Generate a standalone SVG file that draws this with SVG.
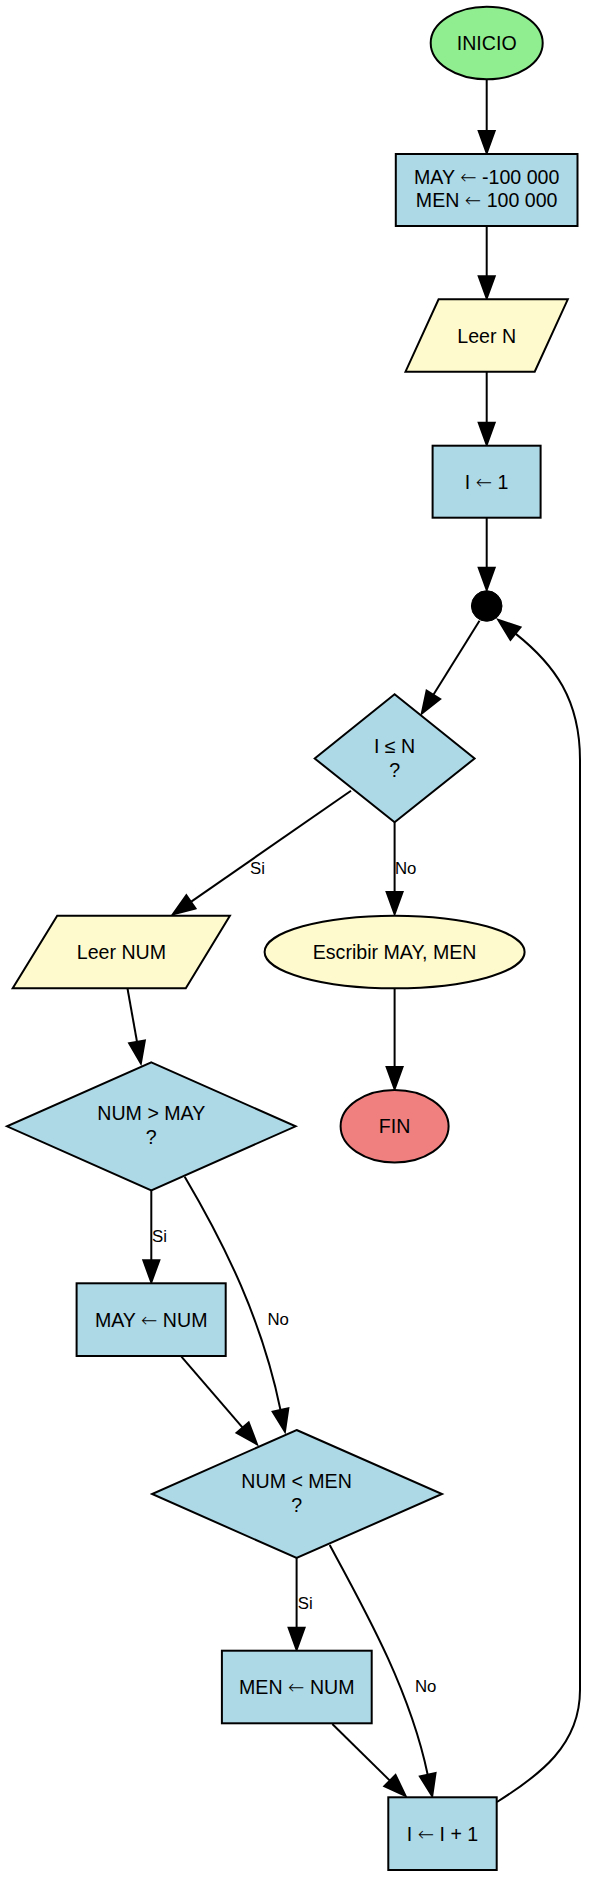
<svg xmlns="http://www.w3.org/2000/svg" width="589" height="1878" viewBox="0 0 589 1878">
<style>
  .n { stroke: #000; stroke-width: 2; }
  .proc { fill: #ADD8E6; }
  .io { fill: #FFFACD; }
  .t { font-family: "Liberation Sans", Arial, sans-serif; font-size: 19.6px; fill: #000; text-anchor: middle; }
  .a { font-family: "DejaVu Sans", sans-serif; font-weight: 200; }
  .lbl { font-family: "Liberation Sans", Arial, sans-serif; font-size: 16.8px; fill: #000; text-anchor: start; }
  .e { fill: none; stroke: #000; stroke-width: 2; }
</style>
<defs>
  <marker id="arr" markerUnits="userSpaceOnUse" markerWidth="28" markerHeight="22" refX="1" refY="10" orient="auto" overflow="visible">
    <path d="M1,2 L23,10 L1,18 Z" fill="#000" stroke="#000" stroke-width="2"/>
  </marker>
</defs>
<rect width="589" height="1878" fill="#fff"/>
<g id="connectors">
  <path class="e" marker-end="url(#arr)" d="M486.7,79.3 L486.7,131"/>
  <path class="e" marker-end="url(#arr)" d="M486.7,226 L486.7,276.3"/>
  <path class="e" marker-end="url(#arr)" d="M486.7,371.7 L486.7,422.7"/>
  <path class="e" marker-end="url(#arr)" d="M486.7,517.7 L486.7,567.7"/>
  <path class="e" marker-end="url(#arr)" d="M479.5,620.7 L433.4,694.8"/>
  <path class="e" marker-end="url(#arr)" d="M351,790.7 L190.9,901.9"/>
  <path class="e" marker-end="url(#arr)" d="M394.6,822.3 L394.6,892"/>
  <path class="e" marker-end="url(#arr)" d="M394.6,988.3 L394.6,1067"/>
  <path class="e" marker-end="url(#arr)" d="M127.5,988.5 L137,1041.8"/>
  <path class="e" marker-end="url(#arr)" d="M151.3,1190.3 L151.3,1260.3"/>
  <path class="e" marker-end="url(#arr)" d="M184.7,1176.7 C225,1245 262,1320 280.5,1410"/>
  <path class="e" marker-end="url(#arr)" d="M181.4,1356.7 L242.6,1427.6"/>
  <path class="e" marker-end="url(#arr)" d="M296.6,1558 L296.6,1627.7"/>
  <path class="e" marker-end="url(#arr)" d="M329.7,1545 C365,1610 410,1690 427.7,1774.7"/>
  <path class="e" marker-end="url(#arr)" d="M332.3,1724 L389.9,1780.6"/>
  <path class="e" marker-end="url(#arr)" d="M497,1802 C540,1775 580,1745 580,1690 L580,760 C580,700 555,665 515.5,633.6"/>
  <text class="lbl" x="250" y="874.3">Si</text>
  <text class="lbl" x="395" y="874.3">No</text>
  <text class="lbl" x="152" y="1241.7">Si</text>
  <text class="lbl" x="267.4" y="1325">No</text>
  <text class="lbl" x="297.8" y="1609.3">Si</text>
  <text class="lbl" x="415" y="1692.3">No</text>
</g>
<g id="inicio">
  <ellipse class="n" cx="486.7" cy="43" rx="56" ry="36.3" fill="#90EE90"/>
  <text class="t" x="486.7" y="50">INICIO</text>
</g>
<g id="init">
  <rect class="n proc" x="395.8" y="154" width="181.7" height="72"/>
  <text class="t" x="486.7" y="184">MAY <tspan class="a">←</tspan> -100 000</text>
  <text class="t" x="486.7" y="206.7">MEN <tspan class="a">←</tspan> 100 000</text>
</g>
<g id="leerN">
  <polygon class="n io" points="438.6,299.3 567.8,299.3 534.7,371.7 405.5,371.7"/>
  <text class="t" x="486.7" y="342.5">Leer N</text>
</g>
<g id="i1">
  <rect class="n proc" x="432.6" y="445.7" width="108" height="72"/>
  <text class="t" x="486.7" y="488.7">I <tspan class="a">←</tspan> 1</text>
</g>
<g id="junction">
  <circle cx="486.7" cy="606" r="15.3" fill="#000" stroke="#000" stroke-width="1"/>
</g>
<g id="cond1">
  <polygon class="n proc" points="394.6,694.3 474.6,758.5 394.6,822.3 314.7,758.5"/>
  <text class="t" x="394.6" y="753.3">I ≤ N</text>
  <text class="t" x="394.6" y="776.7">?</text>
</g>
<g id="leerNUM">
  <polygon class="n io" points="57.2,915.7 229.9,915.7 185.8,988.3 12.7,988.3"/>
  <text class="t" x="121.4" y="959">Leer NUM</text>
</g>
<g id="escribir">
  <ellipse class="n io" cx="394.6" cy="952" rx="130" ry="36.3"/>
  <text class="t" x="394.6" y="959">Escribir MAY, MEN</text>
</g>
<g id="fin">
  <ellipse class="n" cx="394.6" cy="1126.2" rx="54" ry="36.2" fill="#F08080"/>
  <text class="t" x="394.6" y="1133.2">FIN</text>
</g>
<g id="cond2">
  <polygon class="n proc" points="151.3,1062.3 295.6,1126.3 151.3,1190.3 7,1126.3"/>
  <text class="t" x="151.3" y="1120">NUM &gt; MAY</text>
  <text class="t" x="151.3" y="1144">?</text>
</g>
<g id="mayNum">
  <rect class="n proc" x="76.6" y="1283.3" width="149.1" height="72.7"/>
  <text class="t" x="151.2" y="1326.6">MAY <tspan class="a">←</tspan> NUM</text>
</g>
<g id="cond3">
  <polygon class="n proc" points="296.6,1430 442,1494 296.6,1558 152.1,1494"/>
  <text class="t" x="296.6" y="1488">NUM &lt; MEN</text>
  <text class="t" x="296.6" y="1511.5">?</text>
</g>
<g id="menNum">
  <rect class="n proc" x="221.9" y="1650.7" width="149.8" height="72.6"/>
  <text class="t" x="296.8" y="1694">MEN <tspan class="a">←</tspan> NUM</text>
</g>
<g id="inc">
  <rect class="n proc" x="388.3" y="1797.3" width="108.4" height="72.7"/>
  <text class="t" x="442.5" y="1840.7">I <tspan class="a">←</tspan> I + 1</text>
</g>
</svg>
